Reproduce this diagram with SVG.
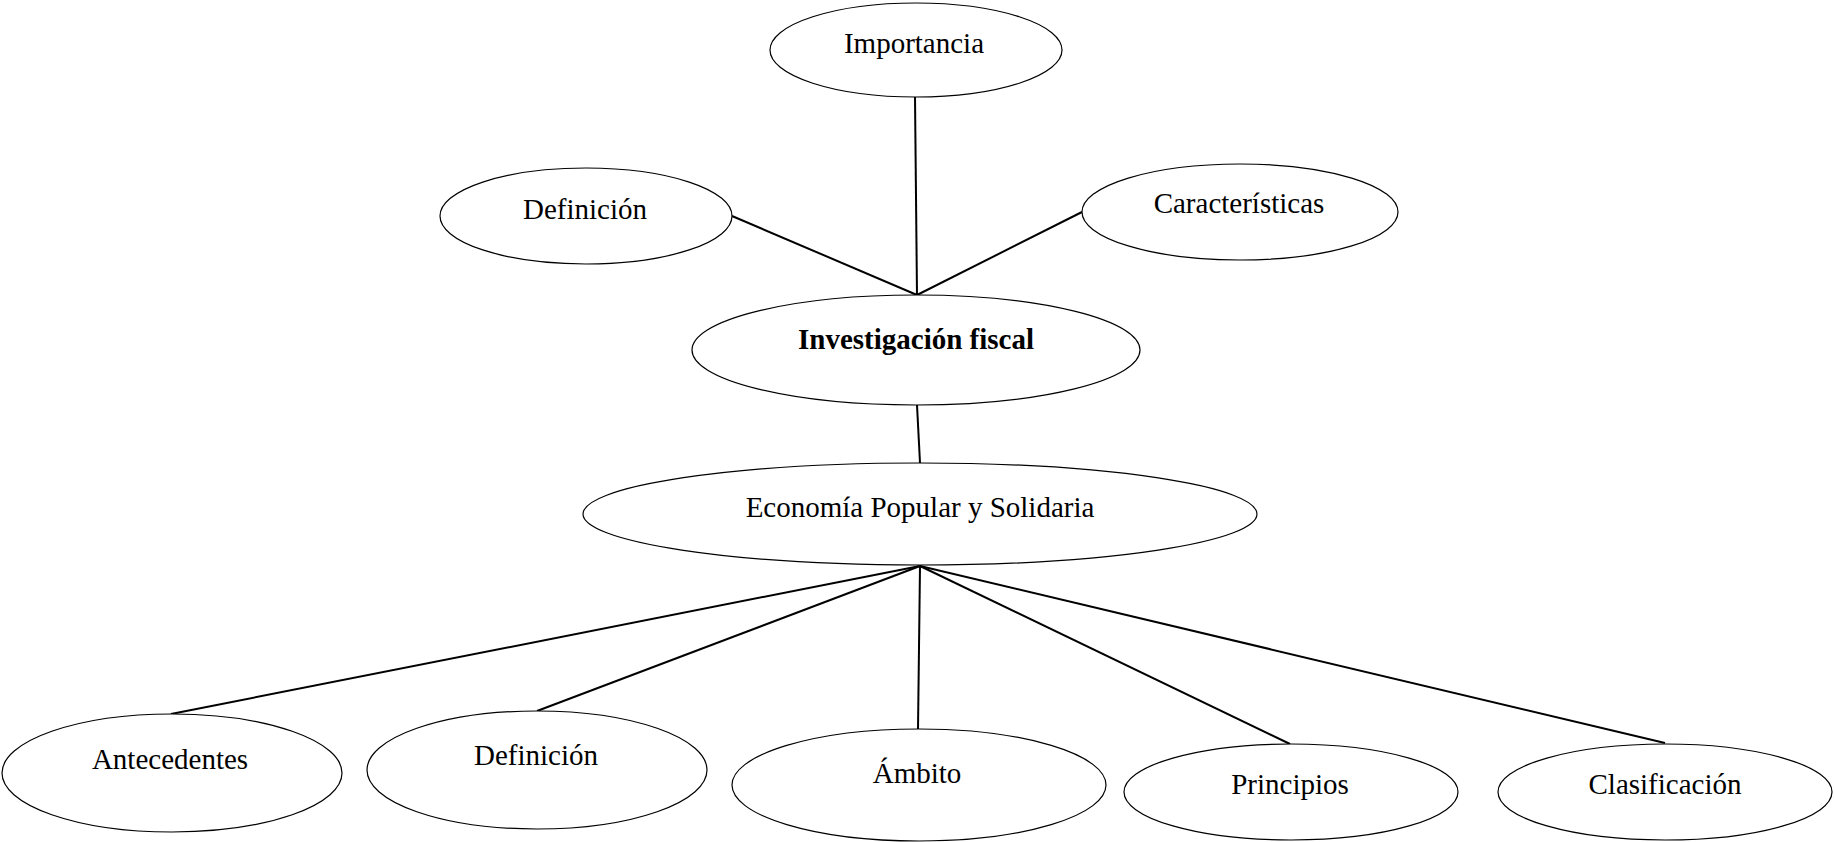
<svg xmlns="http://www.w3.org/2000/svg" width="1834" height="842" viewBox="0 0 1834 842">
<style>
.node ellipse{fill:#fff;stroke:#000;stroke-width:1.2}
.node text{font-family:"Liberation Serif","Times New Roman",serif;font-size:29px;fill:#000;text-anchor:middle}
.node text.b{font-weight:bold}
.conn line{stroke:#000;stroke-width:2}
</style>
<rect width="1834" height="842" fill="#fff"/>
<g class="conn" id="connectors">
<line x1="915" y1="97" x2="917" y2="295"/>
<line x1="732" y1="216" x2="917" y2="295"/>
<line x1="1082" y1="212" x2="917" y2="295"/>
<line x1="917" y1="405" x2="920" y2="463"/>
<line x1="920" y1="566" x2="171" y2="714"/>
<line x1="920" y1="566" x2="537" y2="711"/>
<line x1="920" y1="566" x2="918" y2="729"/>
<line x1="920" y1="566" x2="1290" y2="744"/>
<line x1="920" y1="566" x2="1665" y2="743"/>
</g>
<g class="node" id="importancia"><ellipse cx="916" cy="50" rx="146" ry="47"/><text x="914" y="53">Importancia</text></g>
<g class="node" id="definicion1"><ellipse cx="586" cy="216" rx="146" ry="48"/><text x="585" y="219">Definición</text></g>
<g class="node" id="caracteristicas"><ellipse cx="1240" cy="212" rx="158" ry="48"/><text x="1239" y="213">Características</text></g>
<g class="node" id="investigacion"><ellipse cx="916" cy="350" rx="224" ry="55"/><text class="b" x="916" y="349">Investigación fiscal</text></g>
<g class="node" id="economia"><ellipse cx="920" cy="514" rx="337" ry="51"/><text x="920" y="517">Economía Popular y Solidaria</text></g>
<g class="node" id="antecedentes"><ellipse cx="172" cy="773" rx="170" ry="59"/><text x="170" y="769">Antecedentes</text></g>
<g class="node" id="definicion2"><ellipse cx="537" cy="770" rx="170" ry="59"/><text x="536" y="765">Definición</text></g>
<g class="node" id="ambito"><ellipse cx="919" cy="785" rx="187" ry="56"/><text x="917" y="783">Ámbito</text></g>
<g class="node" id="principios"><ellipse cx="1291" cy="792" rx="167" ry="48"/><text x="1290" y="794">Principios</text></g>
<g class="node" id="clasificacion"><ellipse cx="1665" cy="792" rx="167" ry="48"/><text x="1665" y="794">Clasificación</text></g>
</svg>
